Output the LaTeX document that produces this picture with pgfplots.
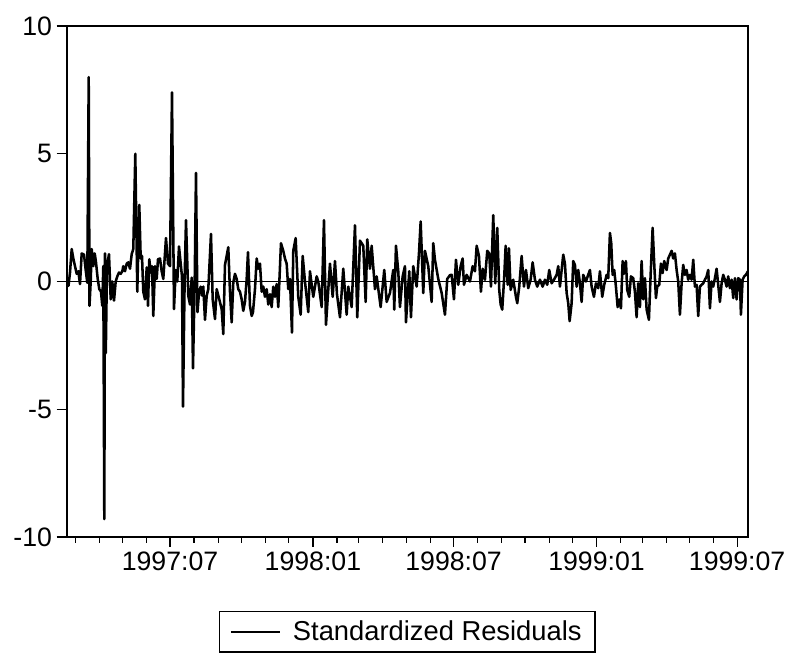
\documentclass[border=0pt]{standalone}
\usepackage{fontspec}
\setmainfont{Liberation Sans}
\usepackage{pgfplots}
\usepackage{pgfplotstable}
\pgfplotsset{compat=1.18}
% p = horizontal position (pixels), v = standardized residual
\pgfplotstableread{
p v
67 0.0
68.5 -0.17
70 0.35
71.7 1.27
73.3 0.9
75 0.6
76.7 0.3
78.3 0.4
80 -0.1
81.7 1.1
84 1.05
86 0.35
87.3 -0.05
88.7 8.0
89.5 -0.95
90.7 0.0
91.7 1.27
93.3 0.6
94.7 1.1
96 0.75
97.7 0.1
99.3 -0.3
101 -0.4
102.3 -0.95
103.3 0.6
104.3 -9.3
105 1.1
105.8 -2.8
107 0.6
109 1.07
110.7 -0.7
112.3 0.0
114 -0.75
115.7 0.0
117.3 0.2
119 0.35
120.7 0.3
122.3 0.4
123.3 0.6
125 0.4
126.7 0.7
128.3 0.75
130 0.5
131.7 1.07
133.3 1.27
135.3 5.0
137.3 -0.4
139.3 3.0
140.7 0.9
142 1.0
143.3 -0.4
145 -0.7
146.7 0.55
148 -0.95
149.3 0.87
150.7 0.35
152 0.6
153.3 -1.35
155 0.6
156.7 0.1
158 0.87
160 0.9
161.7 0.4
163.3 0.1
166 1.7
168 0.7
170 0.6
172 7.4
174 -1.08
175.7 0.45
177.3 0.0
179 1.37
180.7 0.7
182 0.2
183 -4.9
184.7 0.2
186 2.4
188.3 -0.56
190 -0.9
191.7 0.15
193 -3.4
194.7 -0.04
196 4.25
197.5 -1.2
199 -0.45
200.7 -0.2
202 -0.55
203.3 -0.2
205 -1.5
206.7 -0.55
208.3 -0.3
211 1.86
212.7 -0.7
215 -1.47
216.7 -0.3
219.3 -0.7
221.7 -1.08
223.3 -2.06
225 0.65
228.3 1.34
230 -0.4
231.7 -1.6
233.3 -0.04
235 0.3
236.7 0.1
238.3 -0.3
240 -0.4
241.7 -0.7
243.3 -1.15
245 -0.8
246.7 0.1
248 1.15
250 -0.95
251.7 -1.35
253 -1.2
255 -0.3
256.7 0.9
258.3 0.5
260 0.7
261.7 -0.4
263.3 -0.2
265 -0.6
266.7 -0.3
268.3 -0.9
270 -0.5
271.7 -1.0
273.3 -0.2
275 -0.6
276.7 -0.1
278.3 -1.0
281 1.5
283.3 1.2
285 0.9
286.7 0.7
288.3 -0.3
290 0.1
292 -2.0
293.3 1.2
295.7 1.7
298.3 -0.6
300.7 -1.3
302.7 1.0
305 0.0
308.3 -1.2
310 0.4
313.3 -0.6
316.7 0.2
318.3 0.0
321.7 -1.0
324 2.4
326 -1.7
330 0.7
332.7 -0.6
335 0.8
337 -0.5
340 -1.4
343.3 0.5
346.7 -1.3
348.3 -0.2
351.7 -1.0
355 2.2
357.3 -1.4
360 1.6
363.3 1.4
365.7 -0.8
367.3 1.65
370 0.5
371.7 1.4
375 -0.3
376.7 0.2
380.7 -1.0
384.3 0.45
386.7 -0.8
390 -0.45
393.3 0.45
394.3 -1.1
396 1.4
398.3 0.4
400 -1.0
402.7 0.2
405 0.6
406 -1.6
409.3 0.4
411 -1.4
413.3 0.6
416.7 -0.2
419 1.1
420.7 2.35
423.3 -0.45
425 1.2
428.3 0.6
431.7 -0.8
433.3 1.5
435 0.85
438.3 0.1
441.7 -0.45
445 -1.3
447.3 0.1
450 0.25
451.7 0.26
454 -0.7
456 0.85
458.3 -0.13
460.7 0.6
462.7 0.9
464 -0.13
466.7 0.26
470 0.0
472.7 0.6
475 0.4
476.7 1.4
479 1.0
481 -0.4
482.7 0.5
485 0.07
487.3 1.2
489.3 1.1
491 -0.2
493.3 2.6
495.3 -0.07
497.3 2.1
499.3 -0.33
500.7 -0.9
502.3 -1.1
504.3 0.2
505.7 1.4
507.7 -0.13
509 1.3
510.7 -0.33
513.3 0.07
516 -0.6
517.3 -0.85
519.3 -0.2
521.7 1.0
524 -0.2
526 0.45
528.3 -0.26
530.7 0.07
532.7 0.75
535 0.07
537.3 -0.2
540 0.07
542.7 -0.2
545 0.07
547.3 -0.13
549.3 0.45
551.7 -0.07
554 0.07
556.7 0.26
558.3 0.6
560 -0.2
563.3 1.05
565 0.7
566.7 -0.45
568.3 -0.85
569.7 -1.55
571.7 -0.85
573.3 0.8
575 0.65
576.7 -0.2
578.3 0.45
580 -0.07
581.7 -0.8
583.3 0.26
586 0.0
587.7 0.2
590 0.45
591.7 -0.2
594 -0.6
596 -0.07
598.3 -0.26
600 0.4
602.3 -0.6
604.3 -0.13
606.7 0.26
608.3 0.13
610 1.9
611.3 1.5
612.7 0.26
614.3 0.45
616 -0.2
617.7 -1.0
619.3 -0.7
621 -1.05
622.7 0.8
624 0.3
626 0.8
627.3 -0.33
629.3 -0.6
631 0.2
633.3 0.13
635 -0.4
636.7 -1.4
638.3 -0.07
640 -1.0
641.7 0.8
643.3 -0.7
645 0.13
646.7 -1.1
649 -1.5
650.7 0.26
652.7 2.1
654.3 0.7
656 -0.65
657.3 -0.2
659.3 -0.13
661 0.7
662.7 0.33
664.3 0.8
666.7 0.45
668.3 0.9
670 1.05
671.7 1.2
673.3 0.9
675 1.1
676.7 0.45
678.3 0.0
680 -1.3
681.7 -0.07
683.3 0.65
685 0.26
686.7 0.45
688.3 0.07
690 0.26
691.7 0.07
693.3 0.85
695 -0.2
696.7 -0.13
698.3 -1.35
700 -0.2
701.7 -0.13
703.3 -0.07
705 0.07
706.7 0.2
708.3 0.45
710 -1.05
711.7 0.0
713.3 -0.2
715 0.13
716.7 0.5
718.3 -0.13
720 -0.8
721.7 -0.07
723.3 0.26
725 0.07
726.7 -0.2
728.3 0.2
730 -0.26
731.7 0.07
733.3 -0.65
735 0.13
736.7 -0.7
738.3 0.13
740 0.07
741 -1.3
742.7 0.07
744.3 0.2
746 0.26
748 0.4
}\resid

\begin{document}
\begin{tikzpicture}
\path[use as bounding box] (-50pt,-89.25pt) rectangle (545.5pt,402.75pt);
\begin{axis}[
  at={(0pt,0pt)}, anchor=south west,
  scale only axis, width=511pt, height=383.25pt,
  xmin=48, xmax=925, ymin=-10, ymax=10,
  xtick={181,365,546,730,911},
  xticklabels={1997:07,1998:01,1998:07,1999:01,1999:07},
  minor xtick={59,90,120,151,212,243,273,304,334,396,424,455,485,516,577,608,638,669,699,761,789,820,850,881},
  ytick={-10,-5,0,5,10}, yticklabels={-10,-5,0,5,10},
  tick align=outside, xtick pos=bottom, ytick pos=left,
  major tick length=7.5pt, minor tick length=4.5pt,
  tick style={black, line width=0.9pt},
  axis line style={line width=1.3pt},
  ticklabel style={font=\fontsize{20}{24}\selectfont},
  legend style={at={(0.5,-0.1448)}, anchor=north, draw=black, line width=1.1pt,
    font=\fontsize{20.5}{24}\selectfont, inner xsep=8pt, inner ysep=5pt, column sep=7pt},
  legend cell align=left,
]
\addplot[forget plot, black, line width=0.7pt] coordinates {(48,0) (925,0)};
\addplot[black, line width=1.9pt, line join=round,
  legend image code/.code={\draw[black, line width=0.9pt] (0pt,0pt) -- (37pt,0pt);}]
  table[x expr={181+(\thisrow{p}-170)/0.777}, y=v] {\resid};
\addlegendentry{Standardized Residuals\hspace{18pt}}
\end{axis}
\end{tikzpicture}
\end{document}
